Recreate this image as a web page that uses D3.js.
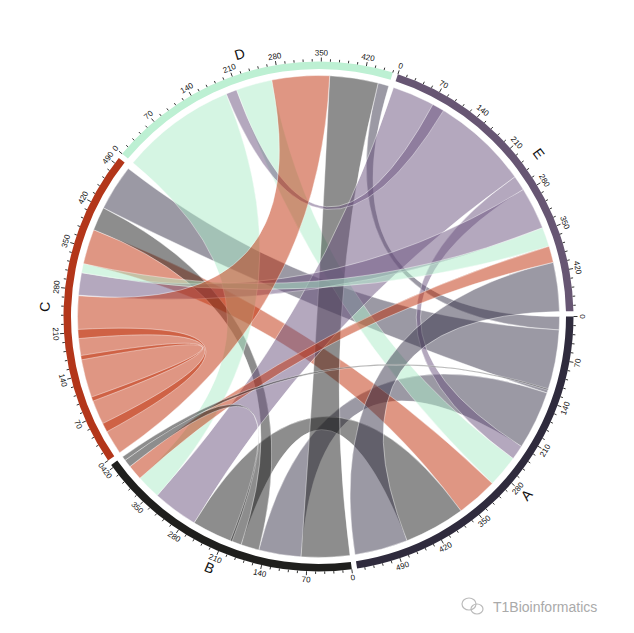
<!DOCTYPE html>
<html><head><meta charset="utf-8">
<script src="https://cdn.jsdelivr.net/npm/d3@7/dist/d3.min.js"></script>
<style>body{margin:0;background:#fff}svg{display:block}</style>
</head><body>
<svg id="chart" width="634" height="633"></svg>
<script>
// sectors (axis units)
const sectorNames   = ["A","B","C","D","E"];
const sectorLengths = [558, 425, 500, 462, 485];
const sectorColors  = ["#2f2b3d","#1f1f1d","#b3361a","#bdf0d3","#675673"];
const linkColors    = ["#37334a","#1c1c1c","#c02e08","#acecc7","#69517d"];
const majorStep = 70, minorStep = 14;
// links: [sector1, start1, end1, sector2, start2, end2, colour-sector]
const links = [
  ["D",444,462,"A",0,22,"A"],
  ["C",420,496,"A",22,127,"A"],
  ["A",127,224,"B",80,150,"A"],
  ["E",250,275,"A",224,248,"E"],
  ["D",209,269,"A",248,301,"D"],
  ["C",323,381,"A",301,369,"C"],
  ["B",180,265,"A",369,470,"B"],
  ["E",404,485,"A",470,558,"A"],
  ["B",0,80,"D",364,444,"B"],
  ["C",381,420,"B",150,180,"B"],
  ["E",0,250,"B",265,340,"E"],
  ["E",70,90,"D",191,209,"E"],
  ["E",275,345,"C",271,308,"E"],
  ["D",0,191,"B",340,380,"D"],
  ["C",308,323,"E",345,377,"D"],
  ["B",380,405,"E",377,404,"C"],
  ["C",0,270,"D",269,364,"C"],
  ["C",40,55,"C",200,215,"C"],
  ["C",95,102,"C",165,172,"C"],
  ["B",405,418,"B",196,199,"B"],
  ["B",418,425,"A",120,122,"B"]
];

const svg = d3.select("#chart");
const cx = 318.5, cy = 316.5;
const gapDeg = 1.2, startDeg = 90;
const total = d3.sum(sectorLengths);
const degPerUnit = (360 - gapDeg * sectorNames.length) / total;
const rad = Math.PI / 180;
const rLink = 241, rArcIn = 247.5, rArcOut = 255;

const sectorStart = {};
let acc = startDeg;
sectorNames.forEach((n, i) => {
  sectorStart[n] = acc;
  acc += sectorLengths[i] * degPerUnit + gapDeg;
});
const colorOf = d3.scaleOrdinal().domain(sectorNames).range(sectorColors);
const linkColorOf = d3.scaleOrdinal().domain(sectorNames).range(linkColors);
const angle = (s, v) => (sectorStart[s] + v * degPerUnit) * rad;

const g = svg.append("g").attr("transform", `translate(${cx},${cy})`);

// links
const ribbon = d3.ribbon().radius(rLink);
g.append("g").selectAll("path").data(links).join("path")
  .attr("d", d => ribbon({
    source: {startAngle: angle(d[0], d[1]), endAngle: angle(d[0], d[2])},
    target: {startAngle: angle(d[3], d[4]), endAngle: angle(d[3], d[5])}
  }))
  .attr("fill", d => linkColorOf(d[6]))
  .attr("fill-opacity", 0.5)
  .attr("stroke", "#fff").attr("stroke-width", 0.6).attr("stroke-opacity", 0.7);

// sector arcs
const arc = d3.arc().innerRadius(rArcIn).outerRadius(rArcOut);
g.append("g").selectAll("path").data(sectorNames).join("path")
  .attr("d", (n, i) => arc({startAngle: angle(n, 0), endAngle: angle(n, sectorLengths[i])}))
  .attr("fill", n => colorOf(n));

// ticks
const tickG = g.append("g");
sectorNames.forEach((n, i) => {
  const len = sectorLengths[i];
  const scale = d3.scaleLinear().domain([0, len]).range([angle(n, 0), angle(n, len)]);
  const minors = d3.range(0, len + 0.001, minorStep);
  tickG.selectAll(null).data(minors).join("line")
    .attr("x1", v => rArcOut * Math.sin(scale(v)))
    .attr("y1", v => -rArcOut * Math.cos(scale(v)))
    .attr("x2", v => (rArcOut + (v % majorStep === 0 ? 4 : 2.5)) * Math.sin(scale(v)))
    .attr("y2", v => -(rArcOut + (v % majorStep === 0 ? 4 : 2.5)) * Math.cos(scale(v)))
    .attr("stroke", "#000").attr("stroke-width", 0.8);
  const majors = d3.range(0, len + 0.001, majorStep);
  tickG.selectAll(null).data(majors).join("text")
    .attr("transform", v => {
      const a = scale(v), deg = a / rad, r = 263.5;
      let rot = ((deg % 360) + 360) % 360;
      if (rot > 90 && rot < 270) rot -= 180;
      return `translate(${r * Math.sin(a)},${-r * Math.cos(a)}) rotate(${rot})`;
    })
    .attr("text-anchor", "middle").attr("dominant-baseline", "central")
    .attr("font-family", "Liberation Sans, Arial, sans-serif").attr("font-size", 8)
    .attr("fill", "#111").text(v => v);
  // sector name
  const mid = scale(len / 2), dm = mid / rad, rn = 274;
  let rotn = ((dm % 360) + 360) % 360;
  if (rotn > 90 && rotn < 270) rotn -= 180;
  tickG.append("text")
    .attr("transform", `translate(${rn * Math.sin(mid)},${-rn * Math.cos(mid)}) rotate(${rotn})`)
    .attr("text-anchor", "middle").attr("dominant-baseline", "central")
    .attr("font-family", "Liberation Sans, Arial, sans-serif").attr("font-size", 14)
    .attr("fill", "#111").text(n);
});

// watermark
const wm = svg.append("g").attr("transform", "translate(472,606)");
wm.append("ellipse").attr("cx", -3).attr("cy", -2).attr("rx", 7).attr("ry", 6).attr("fill", "none").attr("stroke", "#bbb").attr("stroke-width", 1.2);
wm.append("ellipse").attr("cx", 5).attr("cy", 3).attr("rx", 6).attr("ry", 5).attr("fill", "none").attr("stroke", "#bbb").attr("stroke-width", 1.2);
svg.append("text").attr("x", 493).attr("y", 612)
  .attr("font-family", "Liberation Sans, Arial, sans-serif").attr("font-size", 14)
  .attr("fill", "#aaa").text("T1Bioinformatics");
</script>
</body></html>
